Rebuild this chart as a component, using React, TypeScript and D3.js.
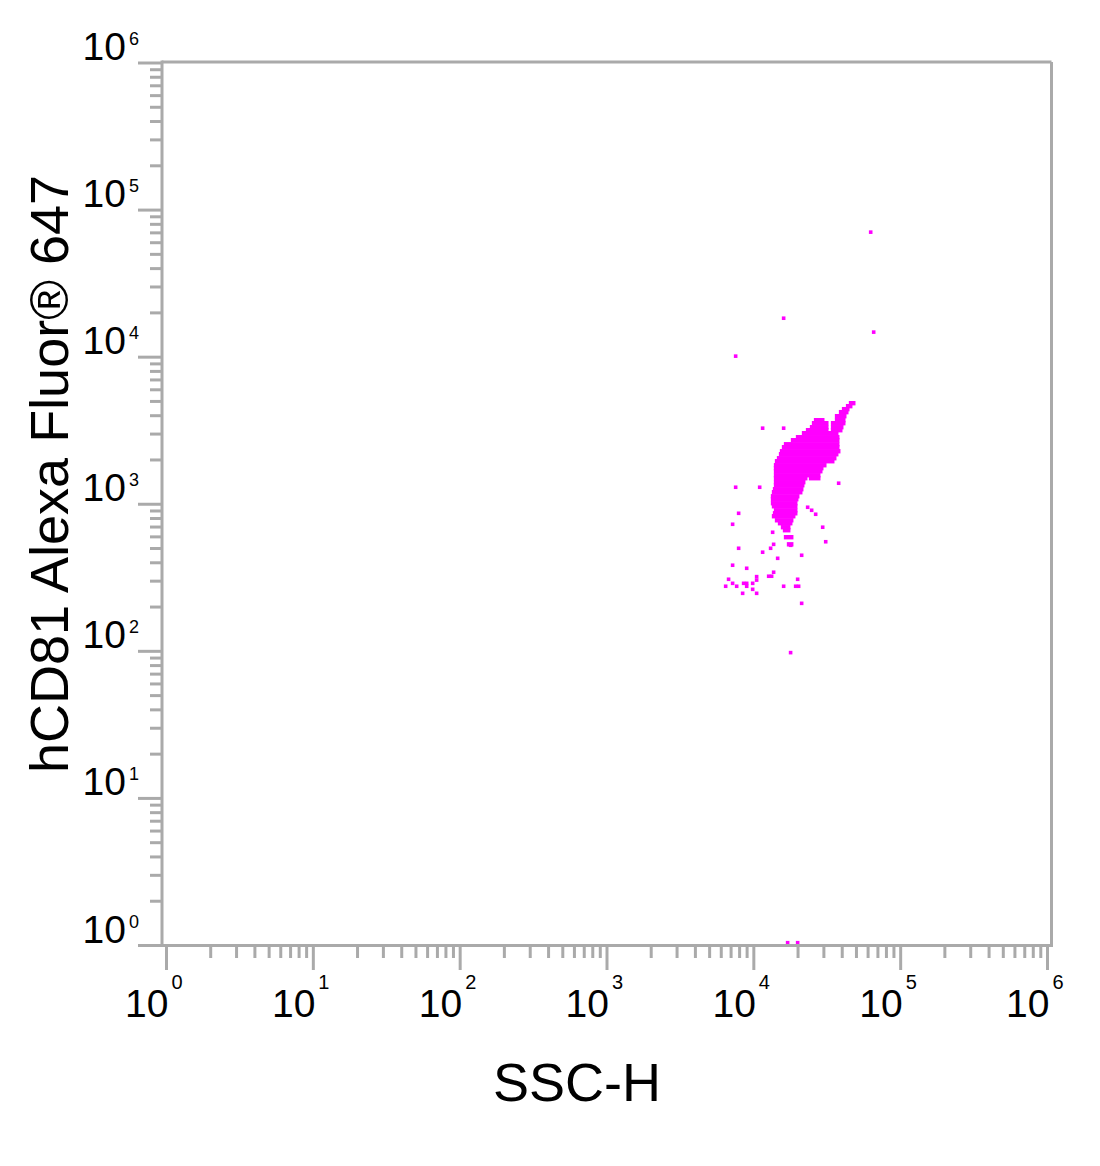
import React from "react";
import * as d3 from "d3";

// Axis decades (both axes log, 10^0 .. 10^6)
const decades = [0, 1, 2, 3, 4, 5, 6];
const minorMultipliers = [2, 3, 4, 5, 6, 7, 8, 9];

// Dense population: rows of events [hCD81 value, SSC-H from, SSC-H to]
const clusterRows: [number, number, number][] = [
  [4865, 45640, 47860],
  [4643, 43580, 45640],
  [4431, 40920, 43580],
  [4228, 39030, 42900],
  [3969, 36650, 41570],
  [3727, 26370, 29440],
  [3727, 36650, 40920],
  [3557, 25550, 31360],
  [3557, 34430, 40920],
  [3340, 24760, 31360],
  [3340, 34430, 39650],
  [3187, 23260, 31360],
  [3187, 34430, 39030],
  [3041, 21840, 36650],
  [2856, 19880, 20190],
  [2856, 21170, 37230],
  [2725, 18380, 37230],
  [2558, 16470, 37230],
  [2442, 15960, 37230],
  [2293, 15470, 37820],
  [2188, 15230, 36650],
  [2055, 14760, 35520],
  [1961, 14300, 34430],
  [1842, 14080, 30390],
  [1758, 14080, 28980],
  [1677, 14080, 28530],
  [1575, 14080, 27640],
  [1503, 14080, 22540],
  [1503, 24380, 27640],
  [1412, 14080, 21840],
  [1347, 14080, 21500],
  [1265, 13860, 21170],
  [1207, 13640, 20840],
  [1133, 13430, 19880],
  [1082, 13430, 19570],
  [1016, 13430, 19270],
  [969, 13640, 19270],
  [910, 14080, 19270],
  [868, 13860, 19270],
  [829, 13640, 18670],
  [778, 14300, 18090],
  [743, 14990, 17810],
  [698, 15710, 17260],
  [666, 16210, 17260],
  [597, 16470, 18090],
  [534, 17260, 18090],
];

// Sparse events [SSC-H, hCD81]
const sparseEvents: [number, number][] = [
  [62500, 70800],
  [15960, 18400],
  [65500, 14800],
  [7520, 10160],
  [11480, 3290],
  [15960, 3290],
  [37820, 1390],
  [7520, 1305],
  [10960, 1305],
  [23260, 954],
  [24760, 910],
  [26370, 855],
  [7880, 868],
  [7170, 731],
  [29440, 698],
  [30870, 556],
  [13430, 645],
  [7880, 502],
  [13010, 502],
  [13640, 534],
  [11480, 472],
  [17810, 526],
  [21170, 450],
  [14530, 429],
  [7170, 385],
  [8940, 367],
  [13640, 345],
  [12620, 324],
  [13220, 324],
  [10450, 322],
  [10450, 305],
  [6730, 309],
  [7170, 290],
  [8520, 290],
  [8940, 290],
  [9820, 290],
  [6430, 277],
  [7640, 277],
  [8940, 277],
  [9820, 264],
  [8390, 248],
  [10450, 248],
  [19880, 309],
  [15960, 277],
  [19270, 277],
  [20190, 277],
  [21170, 212],
  [17800, 98],
  [16990, 1.03],
  [19880, 1.03],
];

const xTitle = "SSC-H";
const yTitle = "hCD81 Alexa Fluor® 647";

const W = 1100;
const H = 1166;
const AXIS = "#aaaaaa";
const DOT = "#ff00ff";
const FONT = "'Liberation Sans', Arial, sans-serif";

export default function App() {
  const x = d3.scaleLog().domain([1, 1e6]).range([166.5, 1047.5]);
  const y = d3.scaleLog().domain([1, 1e6]).range([945.5, 63]);

  const frameL = 162;
  const frameR = 1051.5;
  const frameT = 62;
  const frameB = 945.5;
  const cell = 3.6;

  const minors: number[] = [];
  decades.slice(0, -1).forEach((d) =>
    minorMultipliers.forEach((m) => minors.push(m * Math.pow(10, d)))
  );

  return (
    <svg
      width={W}
      height={H}
      style={{ position: "absolute", left: 0, top: 0, background: "#fff" }}
      fontFamily={FONT}
    >
      <rect x={0} y={0} width={W} height={H} fill="#fff" />
      {/* events */}
      <g fill={DOT}>
        {clusterRows.map(([fl, a, b], i) => (
          <rect
            key={"c" + i}
            x={x(a) - cell / 2}
            y={y(fl) - cell / 2 - 0.4}
            width={x(b) - x(a) + cell}
            height={cell + 0.8}
          />
        ))}
        {sparseEvents.map(([s, fl], i) => (
          <rect
            key={"s" + i}
            x={x(s) - cell / 2}
            y={Math.min(y(fl) - cell / 2, frameB - cell - 1)}
            width={cell}
            height={cell}
          />
        ))}
      </g>

      {/* frame */}
      <g stroke={AXIS} strokeWidth={3} fill="none">
        <line x1={frameL} y1={frameT} x2={frameR} y2={frameT} />
        <line x1={frameR} y1={frameT} x2={frameR} y2={frameB} />
        <line x1={frameL} y1={frameT - 1.5} x2={frameL} y2={frameB} />
        <line x1={frameL} y1={frameB} x2={frameR + 1.5} y2={frameB} />
        {/* y ticks */}
        {decades.map((d) => (
          <line key={"ym" + d} x1={138} x2={frameL} y1={y(Math.pow(10, d))} y2={y(Math.pow(10, d))} />
        ))}
        {minors.map((v, i) => (
          <line key={"yn" + i} x1={150} x2={frameL} y1={y(v)} y2={y(v)} />
        ))}
        {/* x ticks */}
        {decades.map((d) => (
          <line key={"xm" + d} x1={x(Math.pow(10, d))} x2={x(Math.pow(10, d))} y1={frameB} y2={970} />
        ))}
        {minors.map((v, i) => (
          <line key={"xn" + i} x1={x(v)} x2={x(v)} y1={frameB} y2={958} />
        ))}
      </g>

      {/* tick labels */}
      <g fill="#000">
        {decades.map((d) => {
          const ty = y(Math.pow(10, d));
          return (
            <g key={"yl" + d}>
              <text x={126} y={ty - 3} fontSize={39} textAnchor="end">10</text>
              <text x={129} y={ty - 18} fontSize={18} textAnchor="start">{d}</text>
            </g>
          );
        })}
        {decades.map((d) => {
          const tx = x(Math.pow(10, d));
          return (
            <g key={"xl" + d}>
              <text x={tx + 2} y={1017} fontSize={39} textAnchor="end">10</text>
              <text x={tx + 5} y={989} fontSize={20} textAnchor="start">{d}</text>
            </g>
          );
        })}
      </g>

      {/* axis titles */}
      <text x={577} y={1101} fontSize={54} textAnchor="middle" fill="#000">
        {xTitle}
      </text>
      <text
        transform={`translate(68,474) rotate(-90)`}
        fontSize={54}
        textAnchor="middle"
        fill="#000"
      >
        {yTitle}
      </text>
    </svg>
  );
}
